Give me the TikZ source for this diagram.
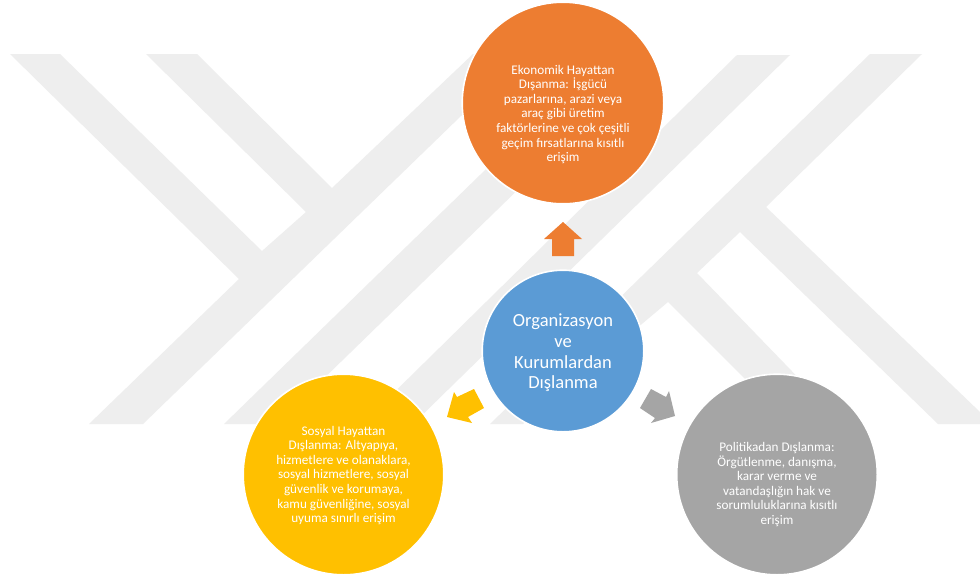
\documentclass[tikz,border=0pt]{standalone}
\usepackage{fontspec}
\setmainfont{Carlito}
\tikzset{
  x=1pt,y=-1pt,
  mark bg/.style={fill=wmgrey,draw=none},
  bubble/.style={circle,inner sep=0pt,draw=white,line width=1.6pt},
  smalltxt/.style={text=white,align=center,inner sep=0pt,font=\fontsize{13.2}{14.6}\selectfont},
  bigtxt/.style={text=white,align=center,inner sep=0pt,font=\fontsize{18.5}{20.7}\selectfont},
  blockarrow/.style={draw=none}
}
\definecolor{wmgrey}{HTML}{EEEEEE}
\definecolor{orangeC}{HTML}{ED7D31}
\definecolor{blueC}{HTML}{5B9BD5}
\definecolor{yellowC}{HTML}{FFC000}
\definecolor{greyC}{HTML}{A5A5A5}
\begin{document}
\begin{tikzpicture}
\useasboundingbox (0,0) rectangle (980,579);
\fill[white] (0,0) rectangle (980,579);
% watermark
\fill[mark bg] (10,54)--(60,54)--(262,251)--(306,212)--(146,54)--(197,54)--(332,188)--(473,54)--(525,54)--(143,424)--(89,424)--(239,279)--cycle;
\fill[mark bg] (224,424)--(277,424)--(570,139)--(517,139)--cycle;
\fill[mark bg] (737,55)--(790,55)--(413,424)--(362,424)--cycle;
\fill[mark bg] (870,54)--(922,54)--(766,207)--(980,412)--(980,424)--(938,424)--(740,232)--(697,273)--(843,424)--(790,424)--(668,302)--(523,424)--(490,424)--cycle;
% circles
\node[bubble,fill=orangeC,minimum size=201.6pt] (eko) at (563,103) {};
\node[bubble,fill=blueC,minimum size=161.6pt] (org) at (563,351) {};
\node[bubble,fill=yellowC,minimum size=200.6pt] (sos) at (343.5,474.5) {};
\node[bubble,fill=greyC,minimum size=200.6pt] (pol) at (777,474.5) {};
% texts
\node[smalltxt] (ekoT) at (563,114.5) {Ekonomik Hayattan\\Dışanma: İşgücü\\pazarlarına, arazi veya\\araç gibi üretim\\faktörlerine ve çok çeşitli\\geçim fırsatlarına kısıtlı\\erişim};
\node[bigtxt] (orgT) at (563,353) {Organizasyon\\ve\\Kurumlardan\\Dışlanma};
\node[smalltxt] (sosT) at (343.5,475.5) {Sosyal Hayattan\\Dışlanma: Altyapıya,\\hizmetlere ve olanaklara,\\sosyal hizmetlere, sosyal\\güvenlik ve korumaya,\\kamu güvenliğine, sosyal\\uyuma sınırlı erişim};
\node[smalltxt] (polT) at (777,484.5) {Politikadan Dışlanma:\\Örgütlenme, danışma,\\karar verme ve\\vatandaşlığın hak ve\\sorumluluklarına kısıtlı\\erişim};
% block arrows
\fill[blockarrow,orangeC] (563,222)--(582,239)--(574,239)--(574,256)--(552,256)--(552,239)--(544,239)--cycle;
\fill[blockarrow,yellowC] (447,417)--(454,392)--(457,397)--(474,389)--(484,408)--(468,417)--(472,423)--cycle;
\fill[blockarrow,greyC] (675,416)--(669,391)--(666,397)--(651,389)--(640,408)--(655,418)--(651,423)--cycle;
\end{tikzpicture}
\end{document}
